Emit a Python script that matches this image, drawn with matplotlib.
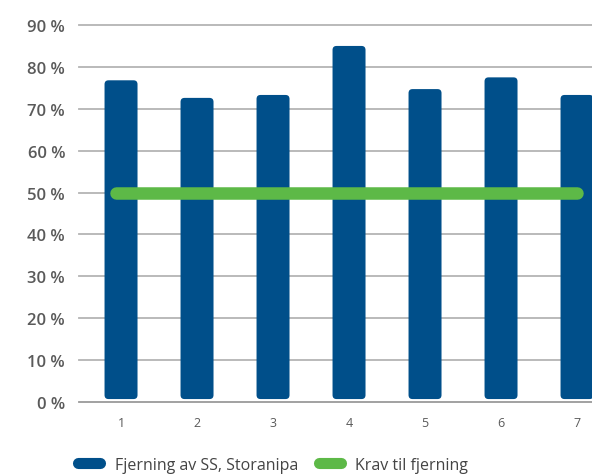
import numpy as np
import matplotlib.pyplot as plt
from matplotlib.patches import FancyBboxPatch
from matplotlib.lines import Line2D

plt.rcParams['font.family'] = ['Open Sans', 'DejaVu Sans']

# data
categories = [1, 2, 3, 4, 5, 6, 7]
fjerning = [76.8, 72.6, 73.3, 85.0, 74.7, 77.5, 73.3]
krav = [50, 50, 50, 50, 50, 50, 50]
yticks = [0, 10, 20, 30, 40, 50, 60, 70, 80, 90]

blue = '#004f8a'
green = '#5db947'

fig = plt.figure(figsize=(5.92, 4.77), dpi=100)
ax = fig.add_axes([79 / 592, 1 - 403 / 477, 1 - 79 / 592, 377 / 477])

xmin, xmax = 0.447, 7.197
ax.set_xlim(xmin, xmax)
ax.set_ylim(0, 90)

# grid
for t in yticks:
    ax.axhline(t, color='#9a9a9a' if t == 0 else '#b4b4b4', lw=1.3, zorder=0, clip_on=False)

# rounded bars: draw plain bars then swap them for rounded boxes
bw = 0.434
bottom = 0.7
bars = ax.bar(categories, np.array(fjerning) - bottom, bottom=bottom, width=bw, visible=False)
xpp = (xmax - xmin) / 513
ypp = 90 / 377
for b in bars:
    p = FancyBboxPatch((b.get_x(), b.get_y()), b.get_width(), b.get_height(),
                       boxstyle='round,pad=0,rounding_size=%f' % (4 * xpp),
                       mutation_aspect=ypp / xpp, fc=blue, ec='none', zorder=2)
    ax.add_patch(p)

# requirement line, stretched a little past the first bar like the original
kx = np.array(categories, dtype=float)
kx[0] -= 0.07
ax.plot(kx, krav, color=green, lw=9, solid_capstyle='round', zorder=3)

for s in ax.spines.values():
    s.set_visible(False)
ax.set_yticks(yticks)
ax.set_yticklabels(['%d %%' % t for t in yticks], fontsize=12, color='#5a5a5a', fontweight='semibold')
ax.set_xticks(categories)
ax.set_xticklabels([str(c) for c in categories], fontsize=9, color='#5a5a5a')
ax.tick_params(axis='y', length=0, pad=10)
ax.tick_params(axis='x', length=0, pad=10)

handles = [Line2D([], [], color=blue, lw=8, solid_capstyle='round'),
           Line2D([], [], color=green, lw=8, solid_capstyle='round')]
fig.legend(handles, ['Fjerning av SS, Storanipa', 'Krav til fjerning'],
           loc='center left', bbox_to_anchor=(78 / 592, 1 - 466 / 477), ncol=2, frameon=False,
           fontsize=11.5, labelcolor='#444444', handlelength=1.4, handletextpad=0.9,
           columnspacing=1.3, borderaxespad=0, borderpad=0)

fig.savefig('out.png', dpi=100)
